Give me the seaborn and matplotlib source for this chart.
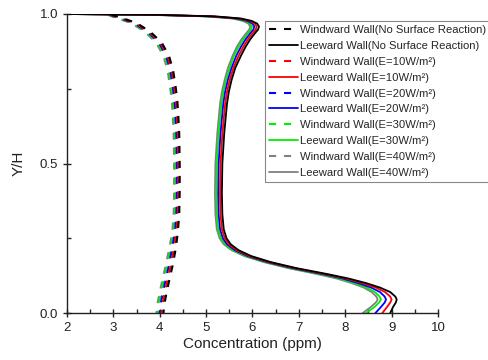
import matplotlib
matplotlib.use("Agg")
import matplotlib.pyplot as plt
import seaborn as sns
import pandas as pd
from matplotlib.ticker import MultipleLocator, FormatStrFormatter

# Height levels (Y/H) at which the profiles are sampled
LEE_Y = [1.0, 0.997, 0.992, 0.985, 0.977, 0.968, 0.958, 0.948, 0.935, 0.915,
         0.89, 0.86, 0.82, 0.78, 0.74, 0.70, 0.60, 0.50, 0.40, 0.33,
         0.28, 0.25, 0.23, 0.21, 0.19, 0.17, 0.15, 0.13, 0.115, 0.10,
         0.085, 0.07, 0.055, 0.045, 0.035, 0.02, 0.0]
WIN_Y = [0.998, 0.99, 0.97, 0.94, 0.905, 0.86, 0.81, 0.76, 0.71, 0.66,
         0.60, 0.50, 0.40, 0.33, 0.27, 0.22, 0.16, 0.12, 0.07, 0.03, 0.0]

# Leeward wall concentration profiles (ppm)
lee_none = [2.0, 4.0, 5.2, 5.75, 5.98, 6.1, 6.14, 6.12, 6.05, 5.95,
            5.85, 5.75, 5.63, 5.55, 5.49, 5.45, 5.39, 5.35, 5.34, 5.35,
            5.38, 5.44, 5.53, 5.70, 5.98, 6.40, 6.95, 7.62, 8.08, 8.45,
            8.75, 8.97, 9.08, 9.11, 9.09, 9.03, 8.97]
lee_e10 = [2.0, 3.95, 5.15, 5.7, 5.93, 6.05, 6.09, 6.07, 6.0, 5.9,
           5.8, 5.7, 5.59, 5.51, 5.45, 5.41, 5.35, 5.31, 5.30, 5.31,
           5.34, 5.40, 5.49, 5.66, 5.94, 6.36, 6.91, 7.57, 8.02, 8.37,
           8.66, 8.86, 8.97, 9.0, 8.97, 8.9, 8.8]
lee_e20 = [2.0, 3.9, 5.1, 5.65, 5.88, 6.0, 6.04, 6.02, 5.95, 5.85,
           5.75, 5.65, 5.55, 5.47, 5.41, 5.37, 5.31, 5.27, 5.26, 5.27,
           5.30, 5.36, 5.45, 5.62, 5.90, 6.32, 6.86, 7.51, 7.95, 8.28,
           8.56, 8.75, 8.85, 8.88, 8.85, 8.77, 8.65]
lee_e30 = [2.0, 3.85, 5.05, 5.6, 5.83, 5.95, 5.99, 5.97, 5.9, 5.8,
           5.7, 5.6, 5.51, 5.43, 5.37, 5.33, 5.27, 5.23, 5.22, 5.23,
           5.26, 5.32, 5.41, 5.58, 5.86, 6.28, 6.81, 7.45, 7.88, 8.2,
           8.46, 8.64, 8.74, 8.77, 8.73, 8.63, 8.45]
lee_e40 = [2.0, 3.8, 5.0, 5.56, 5.79, 5.91, 5.95, 5.93, 5.86, 5.76,
           5.66, 5.57, 5.47, 5.40, 5.34, 5.30, 5.24, 5.20, 5.19, 5.20,
           5.23, 5.29, 5.38, 5.55, 5.83, 6.25, 6.77, 7.40, 7.82, 8.14,
           8.40, 8.57, 8.67, 8.70, 8.66, 8.55, 8.38]

# Windward wall concentration profiles (ppm)
win_none = [2.95, 3.12, 3.5, 3.8, 4.04, 4.2, 4.29, 4.34, 4.38, 4.40,
            4.42, 4.43, 4.43, 4.42, 4.39, 4.35, 4.28, 4.22, 4.15, 4.10, 4.08]
win_e10 = [2.93, 3.09, 3.47, 3.77, 4.01, 4.17, 4.26, 4.31, 4.35, 4.37,
           4.39, 4.40, 4.40, 4.39, 4.36, 4.31, 4.24, 4.18, 4.11, 4.06, 4.04]
win_e20 = [2.91, 3.06, 3.44, 3.74, 3.98, 4.14, 4.23, 4.28, 4.32, 4.34,
           4.36, 4.37, 4.37, 4.36, 4.33, 4.27, 4.20, 4.14, 4.07, 4.02, 4.00]
win_e30 = [2.89, 3.03, 3.41, 3.71, 3.95, 4.11, 4.20, 4.25, 4.29, 4.31,
           4.33, 4.34, 4.34, 4.33, 4.30, 4.24, 4.16, 4.10, 4.03, 3.98, 3.96]
win_e40 = [2.87, 3.00, 3.38, 3.68, 3.92, 4.08, 4.17, 4.22, 4.26, 4.28,
           4.30, 4.31, 4.31, 4.30, 4.27, 4.21, 4.13, 4.07, 4.00, 3.95, 3.93]

CASES = ["No Surface Reaction", "E=10W/m²", "E=20W/m²", "E=30W/m²", "E=40W/m²"]
COLORS = ["#000000", "#ff0000", "#0000ff", "#00ee00", "#808080"]
WINDWARD = [win_none, win_e10, win_e20, win_e30, win_e40]
LEEWARD = [lee_none, lee_e10, lee_e20, lee_e30, lee_e40]

sns.set_style("ticks")
plt.rcParams["font.family"] = ["Liberation Sans", "DejaVu Sans"]

fig = plt.figure(figsize=(4.89, 3.6), dpi=100)
ax = fig.add_axes([67 / 489, 1 - 313 / 360, (438 - 67) / 489, (313 - 14) / 360])

handles = {}
# draw from the last case to the first so the black profiles sit on top
for i in range(len(CASES) - 1, -1, -1):
    wlabel = "Windward Wall(" + CASES[i] + ")"
    llabel = "Leeward Wall(" + CASES[i] + ")"
    dw = pd.DataFrame({"conc": WINDWARD[i], "yh": WIN_Y})
    dl = pd.DataFrame({"conc": LEEWARD[i], "yh": LEE_Y})
    n0 = len(ax.lines)
    sns.lineplot(data=dw, x="conc", y="yh", sort=False, estimator=None,
                 color=COLORS[i], linewidth=1.5, linestyle=(0, (3.4, 3.8)),
                 ax=ax)
    hw = ax.lines[n0]
    sns.lineplot(data=dl, x="conc", y="yh", sort=False, estimator=None,
                 color=COLORS[i], linewidth=1.3, ax=ax)
    hl = ax.lines[n0 + 1]
    handles[i] = [(hw, wlabel), (hl, llabel)]

order = []
for i in range(len(CASES)):
    order.extend(handles[i])

ax.set_xlim(2, 10)
ax.set_ylim(0, 1.0)
ax.xaxis.set_major_locator(MultipleLocator(1))
ax.xaxis.set_minor_locator(MultipleLocator(0.5))
ax.yaxis.set_major_locator(MultipleLocator(0.5))
ax.yaxis.set_minor_locator(MultipleLocator(0.25))
ax.yaxis.set_major_formatter(FormatStrFormatter("%.1f"))
ax.tick_params(which="major", direction="inout", length=6, width=1.0,
               labelsize=9.5, colors="#222222", labelcolor="#222222")
ax.tick_params(which="minor", direction="in", length=3, width=1.0)
for s in ["top", "right"]:
    ax.spines[s].set_visible(False)
for s in ["left", "bottom"]:
    ax.spines[s].set_linewidth(1.0)
    ax.spines[s].set_color("#222222")

ax.set_xlabel("Concentration (ppm)", fontsize=11, labelpad=2, color="#222222")
ax.set_ylabel("Y/H", fontsize=11, labelpad=10, color="#222222")

leg = ax.legend([h for h, _ in order], [t for _, t in order],
                loc="upper left", bbox_to_anchor=(265 / 489, 1 - 21 / 360),
                bbox_transform=fig.transFigure, fontsize=8.15, frameon=True,
                fancybox=False, edgecolor="#888888", framealpha=1,
                handlelength=2.6, handletextpad=0.15, labelspacing=0.52,
                borderpad=0.35, borderaxespad=0)
leg.get_frame().set_linewidth(0.8)

fig.savefig("out.png", dpi=100)
